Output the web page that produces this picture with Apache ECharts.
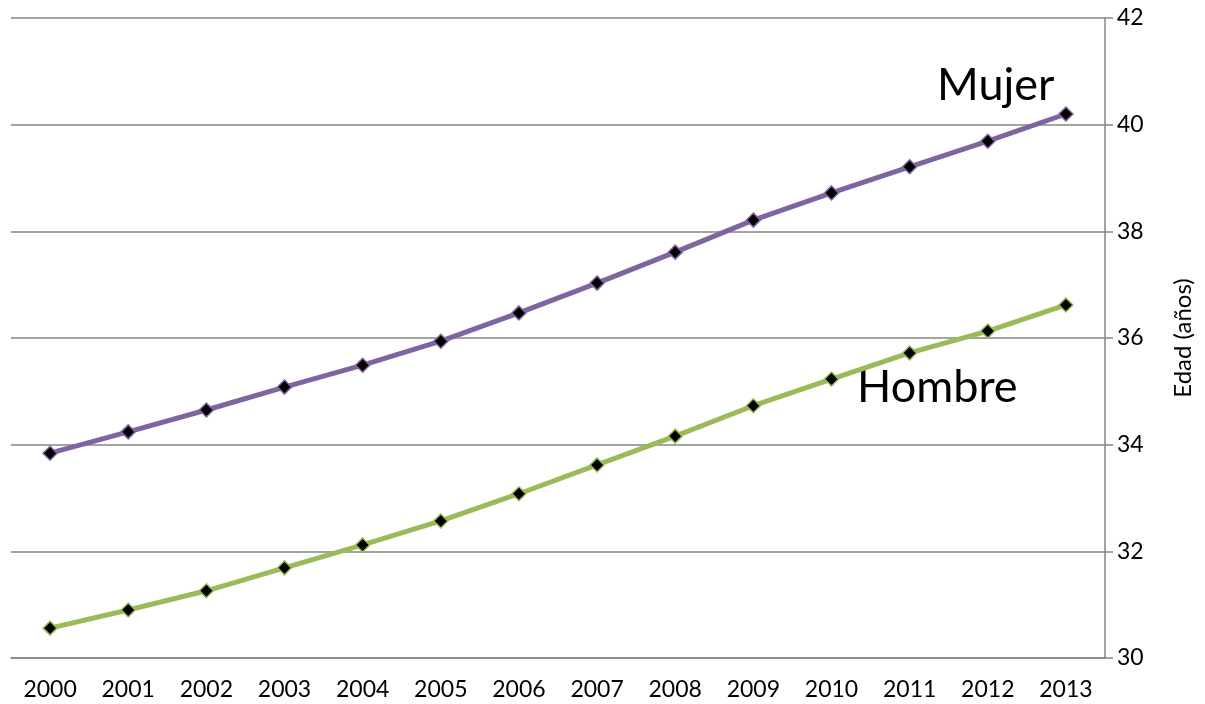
<!DOCTYPE html>
<html><head><meta charset="utf-8">
<script src="https://cdn.jsdelivr.net/npm/echarts@6/dist/echarts.min.js"></script>
<style>html,body{margin:0;padding:0;background:#fff}#c{width:1205px;height:704px}</style>
</head><body><div id="c"></div>
<script>
const years = ['2000','2001','2002','2003','2004','2005','2006','2007','2008','2009','2010','2011','2012','2013'];
const mujer = [33.84,34.24,34.65,35.08,35.49,35.94,36.47,37.03,37.61,38.21,38.72,39.21,39.69,40.20];
const hombre = [30.56,30.90,31.26,31.69,32.12,32.57,33.08,33.62,34.16,34.73,35.23,35.72,36.13,36.62];
const yTicks = {min:30, max:42, interval:2};
const FONT = 'Lato, "Open Sans", sans-serif';
const chart = echarts.init(document.getElementById('c'));
const mk = (name, data, color) => ({
  name, type:'line', data, symbol:'diamond', symbolSize:14,
  lineStyle:{color, width:5}, itemStyle:{color:'#000', borderColor:color, borderWidth:1.5},
  emphasis:{disabled:true}, animation:false
});
chart.setOption({
  animation:false,
  grid:{left:11, right:100, top:18, bottom:46, containLabel:false},
  xAxis:{type:'category', data:years, boundaryGap:true,
    axisLine:{lineStyle:{color:'#868686', width:1.5}},
    axisTick:{length:8, lineStyle:{color:'#868686', width:1.5}},
    axisLabel:{color:'#000', fontSize:23, fontFamily:FONT, margin:20},
    splitLine:{show:false}},
  yAxis:{type:'value', position:'right', min:yTicks.min, max:yTicks.max, interval:yTicks.interval,
    name:'Edad (años)', nameLocation:'middle', nameRotate:90, nameGap:66,
    nameTextStyle:{color:'#000', fontSize:24, fontFamily:FONT},
    axisLine:{show:true, lineStyle:{color:'#868686', width:1.5}},
    axisTick:{show:true, length:8, lineStyle:{color:'#868686', width:1.5}},
    axisLabel:{color:'#000', fontSize:23, fontFamily:FONT, margin:12},
    splitLine:{lineStyle:{color:'#868686', width:1.5}}},
  series:[mk('Mujer', mujer, '#8064A2'), mk('Hombre', hombre, '#9BBB59')],
  graphic:[
    {type:'text', left:937, top:63, style:{text:'Mujer', fontSize:45, fontFamily:FONT, fill:'#000'}},
    {type:'text', left:857, top:365, style:{text:'Hombre', fontSize:45, fontFamily:FONT, fill:'#000'}}
  ]
});
</script></body></html>
